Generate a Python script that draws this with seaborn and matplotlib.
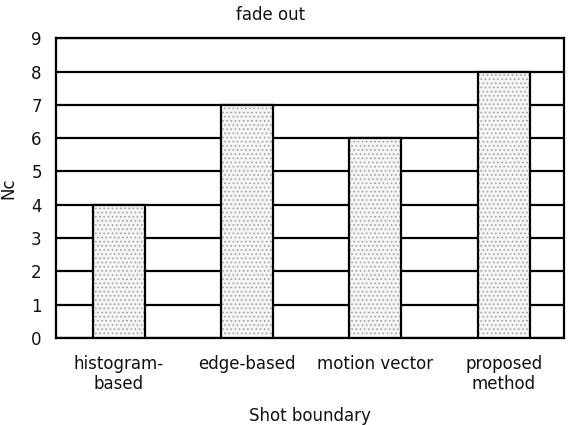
import matplotlib
matplotlib.use("Agg")
import matplotlib.pyplot as plt
import seaborn as sns
import pandas as pd

categories = ["histogram-\nbased", "edge-based", "motion vector", "proposed\nmethod"]
values = [4, 7, 6, 8]
title = "fade out"
xlabel = "Shot boundary"
ylabel = "Nc"

sns.set_style("white")
plt.rcParams['font.family'] = ['DejaVu Sans']
plt.rcParams['hatch.linewidth'] = 0.6

df = pd.DataFrame({"method": categories, "Nc": values})

fig = plt.figure(figsize=(5.68, 4.25), dpi=100)
ax = fig.add_axes([0.098, 0.205, 0.895, 0.705])

# hatched fill (light dotted texture)
sns.barplot(data=df, x="method", y="Nc", order=categories, width=0.405,
            color="#f4f4f4", edgecolor="#9a9a9a", linewidth=0, hatch="....",
            ax=ax, zorder=3)
# black outlines
sns.barplot(data=df, x="method", y="Nc", order=categories, width=0.405,
            fill=False, edgecolor="black", linewidth=1.6, ax=ax, zorder=4)

ax.set_ylim(0, 9)
ax.set_xlim(-0.493, 3.47)
ax.set_yticks(range(0, 10))
ax.yaxis.grid(True, color="black", linewidth=1.6)
ax.xaxis.grid(False)
ax.set_axisbelow(True)
for s in ax.spines.values():
    s.set_visible(True)
    s.set_color("black")
    s.set_linewidth(1.6)
ax.tick_params(axis="both", length=0, labelsize=12, colors="#111111")
ax.tick_params(axis="x", pad=12)
ax.tick_params(axis="y", pad=10)
ax.set_xlabel(xlabel, fontsize=12, labelpad=10, color="#111111")
ax.set_ylabel(ylabel, fontsize=12, color="#111111")
ax.yaxis.set_label_coords(-0.075, 0.5)
fig.text(0.476, 0.965, title, ha="center", va="center", fontsize=12, color="#111111")

fig.savefig("out.png", dpi=100)
